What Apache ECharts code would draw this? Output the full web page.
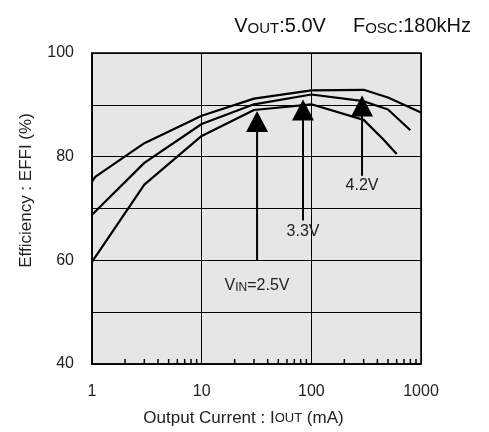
<!DOCTYPE html>
<html>
<head>
<meta charset="utf-8">
<script src="https://cdn.jsdelivr.net/npm/echarts@6/dist/echarts.min.js"></script>
<style>html,body{margin:0;padding:0;background:#fff}#c{width:489px;height:432px}</style>
</head>
<body>
<div id="c"></div>
<script>
// Data
var current42 = [1, 1.07, 3, 10, 30, 100, 300, 500, 1000];
var eff42     = [75.2, 76.1, 82.6, 87.9, 91.2, 92.8, 92.9, 91.4, 88.5];
var current33 = [1, 3, 10, 30, 100, 300, 500, 800];
var eff33     = [68.8, 78.8, 86.3, 90.1, 92.0, 90.7, 89.1, 85.1];
var current25 = [1, 3, 10, 30, 100, 300, 450, 600];
var eff25     = [59.7, 74.6, 84.0, 89.0, 90.1, 87.1, 83.4, 80.5];

var arrowX     = [32, 84, 290];
var arrowTip   = [88.8, 91.05, 91.8];
var arrowTail  = [59.9, 67.7, 76.3];
var arrowLabY  = [55.1, 65.6, 74.4];
var arrowLabel = ['V{s|IN}=2.5V', '3.3V', '4.2V'];

var minorTicks = [2,3,4,5,6,7,8,9,20,30,40,50,60,70,80,90,200,300,400,500,600,700,800,900];
var yLabels = [40, 60, 80, 100];

var FONT = 'Liberation Sans';
function pairs(xs, ys){ return xs.map(function(x,i){ return [x, ys[i]]; }); }

var arrowData = arrowX.map(function(x,i){ return [x, arrowTip[i], arrowTail[i], arrowLabY[i], i]; });

var lineStyle = {color:'#000', width:2.2};
var chart = echarts.init(document.getElementById('c'), null, {renderer:'canvas'});
chart.setOption({
  animation:false,
  backgroundColor:'#fff',
  title:{
    text:'{a|V}{b|OUT}{a|:5.0V}{sp|}{a|F}{b|OSC}{a|:180kHz}',
    right:13, top:11,
    textStyle:{
      fontWeight:'normal',
      rich:{
        a:{fontFamily:FONT, fontSize:20, fontWeight:'normal', color:'#111', verticalAlign:'bottom'},
        b:{fontFamily:FONT, fontSize:15, fontWeight:'normal', color:'#111', verticalAlign:'bottom'},
        sp:{width:27}
      }
    }
  },
  grid:{left:92, right:68, top:53, bottom:65, show:true, backgroundColor:'#e6e6e6', borderColor:'#000', borderWidth:1.5},
  xAxis:{
    type:'log', logBase:10, min:1, max:1000,
    axisLine:{show:true, lineStyle:{color:'#000', width:1.5}},
    axisTick:{show:false},
    splitLine:{show:true, lineStyle:{color:'#000', width:1}},
    axisLabel:{fontFamily:FONT, fontSize:16, color:'#222', margin:20,
      formatter:function(v){ return String(Math.round(v)); }},
    name:'Output Current : I{s|OUT} (mA)',
    nameLocation:'middle', nameGap:46,
    nameTextStyle:{fontFamily:FONT, fontSize:17, color:'#222', padding:[0,26,0,0],
      rich:{s:{fontFamily:FONT, fontSize:13, color:'#222'}}}
  },
  yAxis:{
    type:'value', min:40, max:100, interval:10,
    axisLine:{show:true, lineStyle:{color:'#000', width:1.5}},
    axisTick:{show:false},
    splitLine:{show:true, lineStyle:{color:'#000', width:1}},
    axisLabel:{fontFamily:FONT, fontSize:16, color:'#222', margin:18,
      formatter:function(v){ return yLabels.indexOf(v) >= 0 ? String(v) : ''; }},
    name:'Efficiency : EFFI (%)',
    nameLocation:'middle', nameGap:57,
    nameTextStyle:{fontFamily:FONT, fontSize:17, color:'#222', padding:[0,0,0,36]}
  },
  series:[
    {type:'line', data:pairs(current42, eff42), showSymbol:false, symbol:'none', lineStyle:lineStyle, z:3},
    {type:'line', data:pairs(current33, eff33), showSymbol:false, symbol:'none', lineStyle:lineStyle, z:3},
    {type:'line', data:pairs(current25, eff25), showSymbol:false, symbol:'none', lineStyle:lineStyle, z:3},
    {
      type:'custom', data:minorTicks.map(function(v){ return [v, 40]; }),
      encode:{x:0, y:1}, z:4, silent:true,
      renderItem:function(params, api){
        var p = api.coord([api.value(0), 40]);
        return {type:'line', shape:{x1:p[0], y1:p[1], x2:p[0], y2:p[1]-5}, style:{stroke:'#000', lineWidth:1.5}};
      }
    },
    {
      type:'custom', data:arrowData, encode:{x:0, y:1}, z:5, silent:true,
      renderItem:function(params, api){
        var x = api.value(0);
        var tip = api.coord([x, api.value(1)]);
        var tail = api.coord([x, api.value(2)]);
        var lab = api.coord([x, api.value(3)]);
        var idx = api.value(4);
        var w = 11, h = 21;
        return {type:'group', children:[
          {type:'line', shape:{x1:tip[0], y1:tip[1]+h-1, x2:tail[0], y2:tail[1]}, style:{stroke:'#000', lineWidth:2}},
          {type:'polygon', shape:{points:[[tip[0], tip[1]],[tip[0]-w, tip[1]+h],[tip[0]+w, tip[1]+h]]}, style:{fill:'#000'}},
          {type:'text', x:lab[0], y:lab[1], style:{
            text:arrowLabel[idx], align:'center', verticalAlign:'middle',
            fontFamily:FONT, fontSize:16, fill:'#222',
            rich:{s:{fontFamily:FONT, fontSize:12, fill:'#222', verticalAlign:'bottom'}}
          }}
        ]};
      }
    }
  ]
});
</script>
</body>
</html>
